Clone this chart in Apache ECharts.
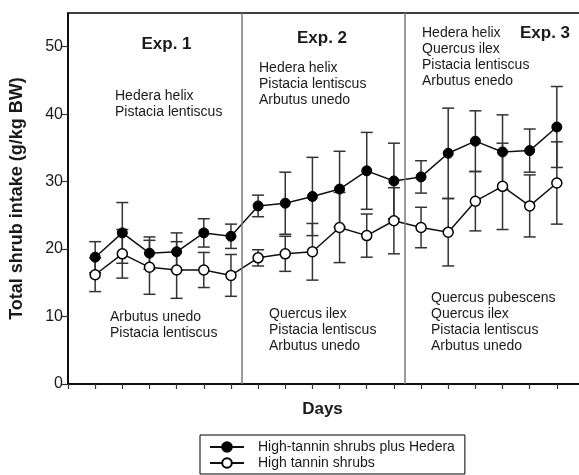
<!DOCTYPE html>
<html><head><meta charset="utf-8">
<script src="https://cdn.jsdelivr.net/npm/echarts@6/dist/echarts.min.js"></script>
<style>html,body{margin:0;padding:0;background:#fff}#c{width:579px;height:475px}</style>
</head><body><div id="c"></div>
<script>
const days = [1,2,3,4,5,6,7,8,9,10,11,12,13,14,15,16,17,18];
const hederaMean = [18.8,22.4,19.4,19.6,22.4,21.9,26.4,26.8,27.8,28.9,31.6,30.1,30.7,34.2,36.0,34.4,34.6,38.1];
const hederaErr  = [2.3,4.5,2.4,2.8,2.1,1.8,1.6,4.6,5.8,5.6,5.7,5.6,2.4,6.7,4.5,5.5,3.2,6.0];
const tanninMean = [16.2,19.3,17.3,16.9,16.9,16.1,18.7,19.3,19.6,23.2,22.0,24.2,23.2,22.5,27.1,29.3,26.4,29.8];
const tanninErr  = [2.5,3.6,4.0,4.2,2.6,3.1,1.2,2.6,4.2,5.2,3.2,4.9,3.0,5.0,4.4,6.4,4.6,6.1];
const yTicks = [0,10,20,30,40,50];
const phaseBreaks = [6.4, 12.4];
const seriesNames = ['High-tannin shrubs plus Hedera','High tannin shrubs'];
const expLabels = ['Exp. 1','Exp. 2','Exp. 3'];
const speciesTop = [
  ['Hedera helix','Pistacia lentiscus'],
  ['Hedera helix','Pistacia lentiscus','Arbutus unedo'],
  ['Hedera helix','Quercus ilex','Pistacia lentiscus','Arbutus enedo']
];
const speciesBottom = [
  ['Arbutus unedo','Pistacia lentiscus'],
  ['Quercus ilex','Pistacia lentiscus','Arbutus unedo'],
  ['Quercus pubescens','Quercus ilex','Pistacia lentiscus','Arbutus unedo']
];

const FONT = '"Liberation Sans", Arial, sans-serif';
const chart = echarts.init(document.getElementById('c'));

function errSeries(mean, err) {
  return {
    type: 'custom', z: 1, silent: true,
    data: days.map((d, i) => [d, mean[i] - err[i], mean[i] + err[i]]),
    encode: { x: 0, y: [1, 2] },
    renderItem(params, api) {
      const lo = api.coord([api.value(0), api.value(1)]);
      const hi = api.coord([api.value(0), api.value(2)]);
      const hw = 6;
      const style = { stroke: '#333', lineWidth: 1.5, fill: null };
      return { type: 'group', children: [
        { type: 'line', shape: { x1: lo[0], y1: lo[1], x2: hi[0], y2: hi[1] }, style },
        { type: 'line', shape: { x1: lo[0] - hw, y1: lo[1], x2: lo[0] + hw, y2: lo[1] }, style },
        { type: 'line', shape: { x1: hi[0] - hw, y1: hi[1], x2: hi[0] + hw, y2: hi[1] }, style }
      ]};
    }
  };
}

const textBlocks = [
  { lines: speciesTop[0], x: 115, y: 88 },
  { lines: speciesTop[1], x: 259, y: 60 },
  { lines: speciesTop[2], x: 422, y: 25 },
  { lines: speciesBottom[0], x: 110, y: 309 },
  { lines: speciesBottom[1], x: 269, y: 306 },
  { lines: speciesBottom[2], x: 431, y: 290 }
];
const expPos = [[166.5, 44], [322, 38], [545, 33]];

const graphics = [];
textBlocks.forEach(b => graphics.push({
  type: 'text', left: b.x, top: b.y, silent: true,
  style: { text: b.lines.join('\n'), font: '14px ' + FONT, lineHeight: 16, fill: '#1a1a1a' }
}));
expLabels.forEach((t, i) => graphics.push({
  type: 'text', x: expPos[i][0], y: expPos[i][1], silent: true,
  style: { text: t, font: 'bold 17px ' + FONT, fill: '#1a1a1a', align: 'center', verticalAlign: 'middle' }
}));

chart.setOption({
  animation: false,
  backgroundColor: '#fff',
  grid: { left: 68, top: 13, width: 516, bottom: 91, outerBoundsMode: 'none', containLabel: false,
          show: true, borderColor: '#000', borderWidth: 1.5, backgroundColor: 'transparent' },
  xAxis: {
    type: 'value', min: 0, max: 19, interval: 1,
    axisLine: { lineStyle: { color: '#000', width: 1.5 } },
    axisTick: { length: 5, lineStyle: { color: '#333', width: 1.2 } },
    axisLabel: { show: false },
    splitLine: { show: false },
    name: 'Days', nameLocation: 'middle', nameGap: 17,
    nameTextStyle: { fontFamily: FONT, fontWeight: 'bold', fontSize: 17, color: '#1a1a1a', padding: [0, 7, 0, 0] }
  },
  yAxis: {
    type: 'value', min: 0, max: 55, interval: 10,
    axisLine: { show: true, lineStyle: { color: '#000', width: 1.5 } },
    axisTick: { show: true, length: 6, customValues: yTicks, lineStyle: { color: '#333', width: 1.2 } },
    axisLabel: { customValues: yTicks, margin: 5, fontFamily: FONT, fontSize: 16, color: '#1a1a1a' },
    splitLine: { show: false },
    name: 'Total shrub intake (g/kg BW)', nameLocation: 'middle', nameGap: 42,
    nameTextStyle: { fontFamily: FONT, fontWeight: 'bold', fontSize: 18, color: '#1a1a1a' }
  },
  legend: {
    orient: 'vertical', left: 200, top: 435,
    data: seriesNames,
    borderColor: '#000', borderWidth: 1, borderRadius: 0,
    padding: [5, 10, 4, 9], itemGap: 2, itemWidth: 34, itemHeight: 12,
    textStyle: { fontFamily: FONT, fontSize: 14, color: '#1a1a1a', padding: [0, 0, 0, 9] }
  },
  graphic: graphics,
  series: [
    errSeries(hederaMean, hederaErr),
    errSeries(tanninMean, tanninErr),
    {
      name: seriesNames[0], type: 'line', z: 3,
      data: days.map((d, i) => [d, hederaMean[i]]),
      symbol: 'circle', symbolSize: 10,
      itemStyle: { color: '#000', borderColor: '#000', borderWidth: 1 },
      lineStyle: { color: '#111', width: 1.5 },
      markLine: {
        silent: true, symbol: ['none', 'none'], label: { show: false },
        lineStyle: { color: '#7a7a7a', type: 'solid', width: 1.5 },
        data: phaseBreaks.map(v => ({ xAxis: v }))
      }
    },
    {
      name: seriesNames[1], type: 'line', z: 3,
      data: days.map((d, i) => [d, tanninMean[i]]),
      symbol: 'circle', symbolSize: 10,
      itemStyle: { color: '#fff', borderColor: '#000', borderWidth: 1.5 },
      lineStyle: { color: '#111', width: 1.5 }
    }
  ]
});
</script>
</body></html>
